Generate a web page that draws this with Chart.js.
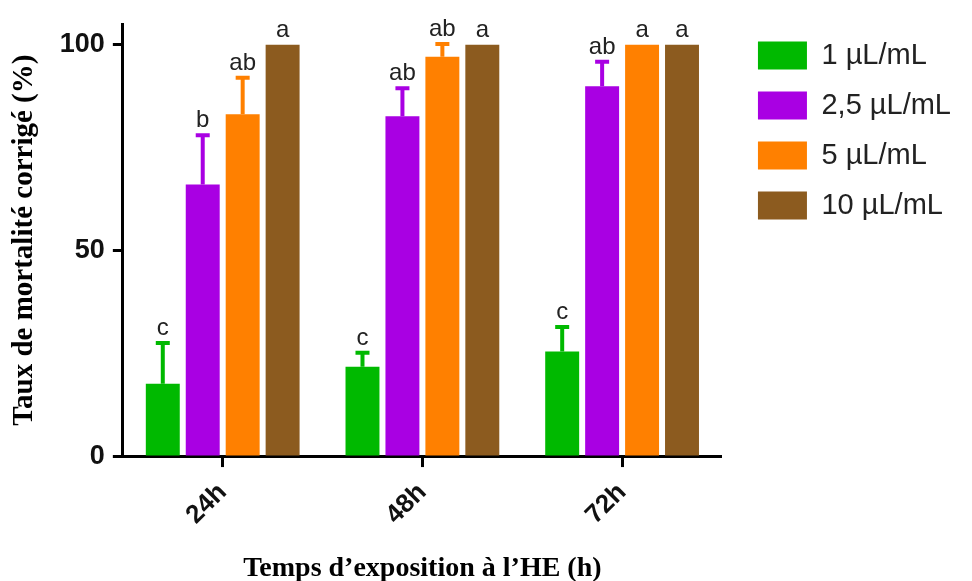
<!DOCTYPE html>
<html>
<head>
<meta charset="utf-8">
<script src="https://cdn.jsdelivr.net/npm/chart.js@4"></script>
<style>
  html, body { margin: 0; padding: 0; background: #fff; }
  #wrap { width: 972px; height: 581px; }
</style>
</head>
<body>
<div id="wrap"><canvas id="chartMortalite"></canvas></div>
<script>
// === DATA ===
const categories = ["24h", "48h", "72h"];
const seriesNames = ["1 µL/mL", "2,5 µL/mL", "5 µL/mL", "10 µL/mL"];

// mortalite corrigee (%) par dose
const dose1 = [17.6, 21.7, 25.4];
const dose25 = [66, 82.6, 89.9];
const dose5 = [83.1, 97.1, 100];
const dose10 = [100, 100, 100];

// barres d'erreur (vers le haut seulement)
const err1 = [9.9, 3.4, 6.0];
const err25 = [12, 6.8, 6.0];
const err5 = [8.9, 3.1, 0];
const err10 = [0, 0, 0];

// lettres de significativite
const letters1 = ["c", "c", "c"];
const letters25 = ["b", "ab", "ab"];
const letters5 = ["ab", "ab", "a"];
const letters10 = ["a", "a", "a"];

const yTicks = [0, 50, 100];

const colors = ["#00b900", "#a900e3", "#ff8000", "#8c5b1f"];

// === PLUGIN BARRES D'ERREUR + LETTRES ===
const errorBarsPlugin = {
  id: "errorBars",
  afterDatasetsDraw(chart) {
    const c = chart.ctx;
    const yScale = chart.scales.y;
    chart.data.datasets.forEach((ds, i) => {
      const meta = chart.getDatasetMeta(i);
      meta.data.forEach((bar, j) => {
        const val = ds.data[j];
        const err = ds.errors[j];
        const yTop = yScale.getPixelForValue(val + err);
        c.save();
        if (err > 0) {
          c.strokeStyle = ds.backgroundColor;
          c.lineWidth = 4;
          c.beginPath();
          c.moveTo(bar.x, bar.y);
          c.lineTo(bar.x, yTop);
          c.moveTo(bar.x - 7, yTop);
          c.lineTo(bar.x + 7, yTop);
          c.stroke();
        }
        c.fillStyle = "#222";
        c.font = "24px 'Liberation Sans', Arial, sans-serif";
        c.textAlign = "center";
        c.textBaseline = "alphabetic";
        c.fillText(ds.letters[j], bar.x, yTop - 8);
        c.restore();
      });
    });
  }
};

// petit decalage de la legende vers la droite (espace apres l'axe x)
const legendShift = {
  id: "legendShift",
  afterLayout(chart) {
    chart.legend.left += 15;
    chart.legend.right += 15;
  }
};

// === SETUP CHART ===
const ctx = document.getElementById("chartMortalite").getContext("2d");
const chartMortalite = new Chart(ctx, {
  type: "bar",
  data: {
    labels: categories,
    datasets: [
      { label: seriesNames[0], data: dose1, errors: err1, letters: letters1, backgroundColor: colors[0] },
      { label: seriesNames[1], data: dose25, errors: err25, letters: letters25, backgroundColor: colors[1] },
      { label: seriesNames[2], data: dose5, errors: err5, letters: letters5, backgroundColor: colors[2] },
      { label: seriesNames[3], data: dose10, errors: err10, letters: letters10, backgroundColor: colors[3] }
    ]
  },
  options: {
    responsive: true,
    maintainAspectRatio: false,
    animation: false,
    barPercentage: 0.85,
    categoryPercentage: 0.8,
    layout: { padding: { top: 20, right: 26, bottom: 0, left: 7 } },
    plugins: {
      legend: {
        position: "right",
        align: "start",
        labels: {
          boxWidth: 49,
          boxHeight: 28,
          padding: 21,
          color: "#222",
          font: { size: 29, family: "'Liberation Sans', Arial, sans-serif" }
        }
      },
      tooltip: { enabled: false }
    },
    scales: {
      x: {
        border: { display: true, color: "#000", width: 3 },
        grid: {
          display: true,
          drawOnChartArea: false,
          drawTicks: true,
          offset: false,
          tickLength: 11,
          tickWidth: 3,
          color: "#000"
        },
        ticks: {
          color: "#111",
          padding: 10,
          maxRotation: 45,
          minRotation: 45,
          font: { size: 26, weight: "bold", family: "'Liberation Sans', Arial, sans-serif" }
        },
        title: {
          display: true,
          text: "Temps d’exposition à l’HE (h)",
          color: "#000",
          padding: { top: 15, bottom: 0 },
          font: { size: 28, weight: "bold", lineHeight: 0.9, family: "'Liberation Serif', 'Times New Roman', serif" }
        }
      },
      y: {
        min: 0,
        max: 105,
        border: { display: true, color: "#000", width: 3 },
        grid: {
          display: true,
          drawOnChartArea: false,
          drawTicks: true,
          tickLength: 10,
          tickWidth: 3,
          color: "#000"
        },
        afterBuildTicks(scale) {
          scale.ticks = yTicks.map(v => ({ value: v }));
        },
        ticks: {
          color: "#111",
          padding: 8,
          font: { size: 27, weight: "bold", family: "'Liberation Sans', Arial, sans-serif" }
        },
        title: {
          display: true,
          text: "Taux de mortalité corrigé (%)",
          color: "#000",
          padding: { top: 0, bottom: 10 },
          font: { size: 29, weight: "bold", family: "'Liberation Serif', 'Times New Roman', serif" }
        }
      }
    }
  },
  plugins: [errorBarsPlugin, legendShift]
});
</script>
</body>
</html>
